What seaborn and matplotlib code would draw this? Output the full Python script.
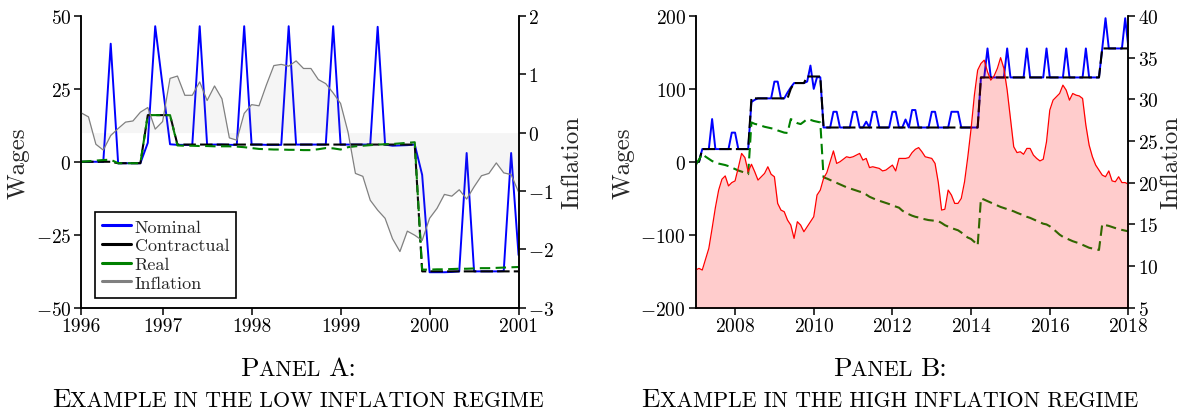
import numpy as np
import matplotlib
matplotlib.use("Agg")
import matplotlib.pyplot as plt
import seaborn as sns
from matplotlib.lines import Line2D
from matplotlib.offsetbox import TextArea, HPacker, AnnotationBbox

# ---------------- data: Panel A (monthly, 1996-2001) ----------------
year_labels_A = ["1996", "1997", "1998", "1999", "2000", "2001"]
year_tick_idx_A = [0, 11, 23, 35, 47, 59]

nominal_A = [0, 0, 0, 0, 40.5, -0.5, -0.5, -0.5, -0.5, 6.5,
             46.5, 26, 6, 5.8, 5.8, 5.8, 46.5, 5.8, 5.9, 5.9,
             5.8, 5.8, 46.5, 5.9, 5.9, 5.8, 5.8, 5.8, 46.5, 5.9,
             5.9, 5.9, 5.9, 5.9, 46.5, 5.9, 5.9, 5.9, 5.9, 5.9,
             46.3, 5.9, 5.5, 5.6, 5.7, 5.9, -4.5, -37.9, -37.9, -37.9,
             -37.8, -37.6, 3, -37.6, -37.6, -37.6, -37.6, -37.5, 3, -32]

contract_A = [0, 0, 0, 0, 0, -0.5, -0.5, -0.5, -0.5, 16,
              16, 16, 16, 5.9, 5.9, 5.9, 5.9, 5.9, 5.9, 5.9,
              5.9, 5.9, 5.9, 5.9, 5.9, 5.9, 5.9, 5.9, 5.9, 5.9,
              5.9, 5.9, 5.9, 5.9, 5.9, 5.9, 5.9, 5.9, 5.9, 5.9,
              5.9, 5.9, 5.9, 5.9, 5.9, 5.9, -37.6, -37.6, -37.6, -37.6,
              -37.6, -37.6, -37.6, -37.6, -37.6, -37.6, -37.6, -37.6, -37.6, -37.6]

real_A = [0, 0.2, 0.4, 0.6, 0.7, -0.5, -0.5, -0.5, -0.5, 16,
          16, 16, 16, 5.6, 5.5, 5.5, 5.4, 5.4, 5.3, 5.3,
          5.3, 5.2, 5.0, 4.7, 4.4, 4.3, 4.2, 4.2, 4.1, 4.1,
          4.0, 4.0, 4.3, 4.7, 4.6, 4.2, 5.0, 5.3, 5.5, 5.7,
          5.9, 6.0, 6.1, 6.3, 6.5, 6.7, -37.0, -37.0, -36.9, -36.9,
          -36.8, -36.7, -36.7, -36.6, -36.5, -36.5, -36.4, -36.3, -36.2, -36.1]

infl_A = [0.34, 0.27, -0.20, -0.30, -0.05, 0.07, 0.18, 0.20, 0.35, 0.43,
          0.06, 0.19, 0.93, 0.97, 0.64, 0.64, 0.87, 0.55, 0.80, 0.58,
          -0.09, -0.13, 0.33, 0.48, 0.46, 0.82, 1.15, 1.17, 1.14, 1.23,
          1.10, 1.10, 0.91, 0.84, 0.68, 0.50, 0.01, -0.70, -0.75, -1.16,
          -1.33, -1.47, -1.82, -2.04, -1.69, -1.76, -1.85, -1.47, -1.30, -1.06,
          -1.09, -0.98, -1.14, -0.93, -0.74, -0.70, -0.52, -0.69, -0.72, -1.02]

# ---------------- data: Panel B (monthly, 2007-2018) ----------------
nominal_B = [0, 0, 17.4, 17.4, 17.4, 58.6, 17.4, 17.4, 17.4, 17.4,
             17.4, 40, 40, 17.4, 17.4, 17.4, 17.4, 82, 85, 87,
             87, 87, 87, 87, 110, 110, 87, 87, 95, 102,
             108, 108, 108, 108, 110, 132, 100, 116, 116, 47,
             47, 47, 68.6, 68.6, 47, 47, 47, 47, 68.6, 68.6,
             47, 47, 55, 47, 68.6, 68.6, 47, 47, 47, 47,
             68.6, 68.6, 47, 47, 58, 47, 71, 71, 47, 47,
             47, 47, 68.6, 68.6, 47, 47, 47, 47, 68.6, 68.6,
             68.6, 47, 47, 47, 47, 47, 47, 115.7, 115.7, 155.5,
             115.7, 115.7, 115.7, 115.7, 115.7, 155.5, 115.7, 115.7, 115.7, 115.7,
             115.7, 155.5, 115.7, 115.7, 115.7, 115.7, 115.7, 155.5, 115.7, 115.7,
             115.7, 115.7, 115.7, 155.5, 115.7, 115.7, 115.7, 115.7, 115.7, 155.5,
             115.7, 115.7, 115.7, 115.7, 155.5, 197, 155.5, 155.5, 155.5, 155.5,
             155.5, 197, 155.5]

contract_B = [0, 0, 17.4, 17.4, 17.4, 17.4, 17.4, 17.4, 17.4, 17.4,
              17.4, 17.4, 17.4, 17.4, 17.4, 17.4, 17.4, 87, 87, 87,
              87, 87, 87, 87, 87, 87, 87, 87, 87, 100,
              108, 108, 108, 108, 117, 117, 117, 117, 117, 47,
              47, 47, 47, 47, 47, 47, 47, 47, 47, 47,
              47, 47, 47, 47, 47, 47, 47, 47, 47, 47,
              47, 47, 47, 47, 47, 47, 47, 47, 47, 47,
              47, 47, 47, 47, 47, 47, 47, 47, 47, 47,
              47, 47, 47, 47, 47, 47, 47, 115.7, 115.7, 115.7,
              115.7, 115.7, 115.7, 115.7, 115.7, 115.7, 115.7, 115.7, 115.7, 115.7,
              115.7, 115.7, 115.7, 115.7, 115.7, 115.7, 115.7, 115.7, 115.7, 115.7,
              115.7, 115.7, 115.7, 115.7, 115.7, 115.7, 115.7, 115.7, 115.7, 115.7,
              115.7, 115.7, 115.7, 115.7, 155.5, 155.5, 155.5, 155.5, 155.5, 155.5,
              155.5, 155.5, 155.5]

real_B = [-4.5, 3, 10.6, 7, 4, 1, -1, -2.5, -3.5, -4.5,
          -6, -8, -10, -12, -13.5, -15, -17, 54, 52, 51,
          49.5, 48, 47, 46, 45, 43, 41.5, 40, 39.5, 58.6,
          56, 53, 51.7, 55, 58.6, 57.5, 56, 55, 54, -21.4,
          -23, -25, -27, -29, -31, -33, -35, -36.5, -38, -39.5,
          -41, -42, -45, -48, -50, -52, -53.5, -55, -56.5, -58,
          -60, -61.5, -63, -67, -70, -72, -74, -75.5, -76.5, -78,
          -79, -80, -80.5, -81, -81.5, -84, -87, -89, -91, -92.5,
          -94, -97, -101, -104, -106, -110, -115, -50.2, -52, -54,
          -56, -58, -60, -62, -63.5, -65, -66.5, -68, -70, -71.7,
          -73.5, -75.5, -77, -79, -81, -83, -85, -86, -88.5, -92,
          -96, -100, -103, -105, -107, -109, -110.5, -112, -114, -116,
          -118, -119, -120, -121, -85.5, -87, -88, -89.5, -91, -92.5,
          -93.5, -94.6, -95.5]

infl_B = [9.5, 9.7, 9.5, 10.8, 12.1, 14.5, 17.0, 19.1, 20.4, 20.8,
          19.6, 20.0, 20.2, 21.8, 23.5, 23.0, 21.3, 22.2, 21.3, 20.3,
          20.7, 21.1, 21.9, 21.0, 20.7, 17.5, 16.7, 16.5, 15.5, 14.9,
          13.3, 15.3, 14.9, 14.1, 14.7, 15.3, 15.9, 18.5, 19.1, 20.5,
          21.2, 22.5, 23.8, 22.3, 22.5, 22.8, 23.1, 23.0, 23.1, 23.3,
          23.5, 22.7, 22.9, 21.8, 21.9, 21.8, 21.7, 21.4, 21.5, 21.8,
          22.1, 21.4, 22.9, 22.9, 22.9, 23.0, 23.6, 24.0, 24.2, 23.7,
          23.1, 23.0, 22.9, 22.3, 20.0, 16.7, 16.8, 19.1, 18.5, 17.5,
          17.5, 18.1, 20.1, 23.1, 26.5, 30.5, 33.5, 34.3, 34.7, 33.3,
          32.3, 32.8, 33.7, 35.0, 33.7, 31.1, 27.7, 24.3, 23.6, 23.7,
          23.4, 24.1, 24.1, 23.3, 22.9, 22.6, 22.8, 24.9, 28.7, 29.9,
          30.3, 30.7, 31.7, 31.1, 29.9, 30.7, 30.5, 30.4, 30.1, 26.9,
          24.5, 23.1, 22.1, 21.5, 20.9, 20.7, 21.4, 20.2, 20.1, 20.7,
          20.0, 20.0, 19.8]

legend_labels = ["Nominal", "Contractual", "Real", "Inflation"]
title_A = ["Panel A:", "Example in the low inflation regime"]
title_B = ["Panel B:", "Example in the high inflation regime"]

# ---------------- style ----------------
sns.set_style("ticks")
plt.rcParams["font.family"] = ["cmr10", "DejaVu Serif"]
plt.rcParams["mathtext.fontset"] = "cm"
plt.rcParams["axes.formatter.use_mathtext"] = True
plt.rcParams["axes.unicode_minus"] = True
plt.rcParams["xtick.direction"] = "out"
plt.rcParams["ytick.direction"] = "out"

TICK = 14
LAB = 18
C_BLUE = "#0000ff"
C_GREEN = "#008000"
DASH_K = (0, (6, 2))
DASH_G = (0, (5, 2.6))

fig = plt.figure(figsize=(11.85, 4.14), dpi=100)
axA = fig.add_axes([0.0684, 0.2548, 0.3692, 0.7041])
axB = fig.add_axes([0.5871, 0.2548, 0.3652, 0.7041])


def style_axes(ax, ax2):
    for a in (ax, ax2):
        a.spines["top"].set_visible(False)
        for s in a.spines.values():
            s.set_linewidth(1.1)
            s.set_color("black")
        a.tick_params(labelsize=TICK, length=5, width=1.1, colors="black", pad=2)
    ax.tick_params(axis="x", pad=2)
    ax2.grid(False)
    ax.grid(False)


# ---------------- Panel A ----------------
idx_A = np.arange(len(nominal_A))
sns.lineplot(x=idx_A, y=nominal_A, ax=axA, color=C_BLUE, linewidth=1.4)
sns.lineplot(x=idx_A, y=contract_A, ax=axA, color="black", linewidth=1.5, linestyle=DASH_K)
sns.lineplot(x=idx_A, y=real_A, ax=axA, color=C_GREEN, linewidth=1.5, linestyle=DASH_G)
axA2 = axA.twinx()
sns.lineplot(x=idx_A, y=infl_A, ax=axA2, color="gray", linewidth=0.9)
axA2.fill_between(idx_A, infl_A, 0, color="gray", alpha=0.08, linewidth=0)

axA.set_xlim(0, 59)
axA.set_ylim(-50, 50)
axA2.set_ylim(-3, 2)
axA.set_xticks(year_tick_idx_A)
axA.set_xticklabels(year_labels_A)
axA.set_yticks([-50, -25, 0, 25, 50])
axA2.set_yticks([-3, -2, -1, 0, 1, 2])
axA.set_xlabel("")
axA.set_ylabel("Wages", fontsize=LAB, labelpad=4)
axA2.set_ylabel("Inflation", fontsize=LAB, labelpad=5)
style_axes(axA, axA2)

handles = [Line2D([], [], color=c, linewidth=2.2) for c in [C_BLUE, "black", C_GREEN, "gray"]]
leg = axA2.legend(handles, legend_labels, loc="lower left", bbox_to_anchor=(0.032, 0.033),
                  borderaxespad=0, frameon=True, fancybox=False, edgecolor="black",
                  framealpha=1, fontsize=13, handlelength=1.6, handletextpad=0.2,
                  labelspacing=0.17, borderpad=0.4)
leg.get_frame().set_linewidth(1.2)

# ---------------- Panel B ----------------
t_B = 2007 + np.arange(len(nominal_B)) / 12.0
sns.lineplot(x=t_B, y=nominal_B, ax=axB, color=C_BLUE, linewidth=1.4)
sns.lineplot(x=t_B, y=contract_B, ax=axB, color="black", linewidth=1.5, linestyle=DASH_K)
sns.lineplot(x=t_B, y=real_B, ax=axB, color=C_GREEN, linewidth=1.5, linestyle=DASH_G)
axB2 = axB.twinx()
sns.lineplot(x=t_B, y=infl_B, ax=axB2, color="red", linewidth=0.9)
axB2.fill_between(t_B, infl_B, 5, color="red", alpha=0.2, linewidth=0)

axB.set_xlim(2007, 2018)
axB.set_ylim(-200, 200)
axB2.set_ylim(5, 40)
axB.set_xticks([2008, 2010, 2012, 2014, 2016, 2018])
axB.ticklabel_format(axis="x", useOffset=False)
axB.set_yticks([-200, -100, 0, 100, 200])
axB2.set_yticks([5, 10, 15, 20, 25, 30, 35, 40])
axB.set_ylabel("Wages", fontsize=LAB, labelpad=4)
axB2.set_ylabel("Inflation", fontsize=LAB, labelpad=1)
style_axes(axB, axB2)


# ---------------- small-caps titles ----------------
def smallcaps(text, big=19.5, small=15.8):
    runs = []
    for ch in text:
        is_small = ch.islower() or (ch == " " and runs and runs[-1][1] == small)
        size = small if is_small else big
        c = ch.upper()
        if runs and runs[-1][1] == size:
            runs[-1][0] += c
        else:
            runs.append([c, size])
    kids = [TextArea(r[0], textprops=dict(fontsize=r[1], family=["cmr10", "DejaVu Serif"], color="black"))
            for r in runs]
    return HPacker(children=kids, align="baseline", pad=0, sep=0)


for xc, lines in [(0.2515, title_A), (0.751, title_B)]:
    for yb, line in zip([0.080, 0.005], lines):
        ab = AnnotationBbox(smallcaps(line), (xc, yb), xycoords="figure fraction",
                            frameon=False, box_alignment=(0.5, 0.0), pad=0)
        fig.add_artist(ab)

fig.savefig("out.png", dpi=100)
